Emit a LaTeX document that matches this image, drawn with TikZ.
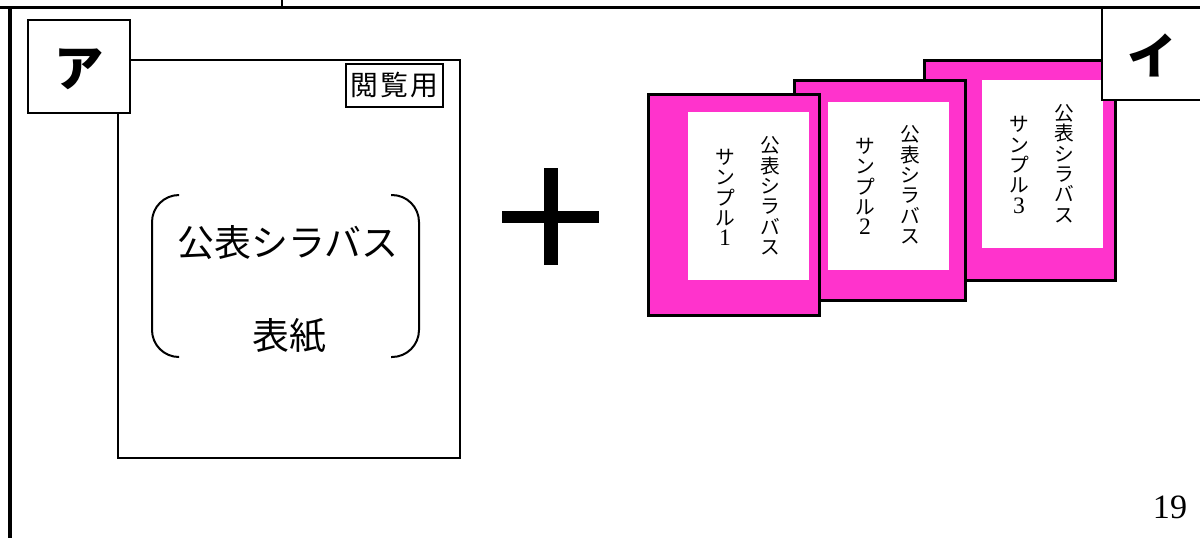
\documentclass[tikz,border=0pt]{standalone}
\usepackage{fontspec}
\setmainfont{Liberation Serif}
\newfontfamily\cjk{Noto Sans CJK JP}
\newcommand{\wdig}[1]{{\rmfamily\fontsize{6.7}{5.8}\selectfont #1}}
\tikzset{
  x=0.01cm,y=-0.01cm,
  thin box/.style={draw=black,line width=0.018cm,fill=white},
  label box/.style={draw=black,line width=0.02cm,fill=white},
  card/.style={draw=black,line width=0.03cm,fill=cardpink},
  inner card/.style={fill=white},
  vtext/.style={font=\cjk\fontsize{5.6}{5.8}\selectfont,align=center,inner sep=0pt},
  bigtext/.style={font=\cjk\fontsize{10.5}{11}\selectfont,inner sep=0pt},
  tagtext/.style={font=\cjk\bfseries\fontsize{14}{15}\selectfont,inner sep=0pt},
  bracket/.style={draw=black,line width=0.02cm,rounded corners=0.27cm},
  frame/.style={draw=black,line width=0.035cm},
}
\definecolor{cardpink}{HTML}{FF33CC}
\begin{document}
\begin{tikzpicture}
\useasboundingbox (0,0) rectangle (1200,538);
\clip (0,0) rectangle (1200,538);
\fill[white] (0,0) rectangle (1200,538);
% page frame
\draw[frame] (0,7.5) -- (1200,7.5);
\draw[frame] (10,7.5) -- (10,538);
\draw[draw=black,line width=0.02cm] (282,0) -- (282,7.5);
% cover sheet
\draw[thin box] (118,60) rectangle (460,458);
\draw[label box] (346,64) rectangle (443,107);
\node[font=\cjk\fontsize{7.9}{9}\selectfont,inner sep=0pt] (eturan) at (394.5,85) {閲\kern0.6pt 覧\kern0.6pt 用};
\draw[bracket] (179,195) -| (152,357) -- (179,357);
\draw[bracket] (391,195) -| (419,357) -- (391,357);
\node[bigtext] (title) at (288,243) {公表シラバス};
\node[bigtext] (cover) at (289,336) {表紙};
% tag A
\draw[thin box,line width=0.02cm] (28,20) rectangle (130,113);
\node[tagtext] (tagA) at (79,69) {ア};
% plus
\fill[black] (502,211) rectangle (599,223);
\fill[black] (544,168) rectangle (558,265);
% card 3
\draw[card] (924,60) rectangle (1115,280);
\fill[inner card] (982,80) rectangle (1103,248);
\node[vtext] (c3a) at (1064,163.5) {公\\表\\シ\\ラ\\バ\\ス};
\node[vtext] (c3b) at (1019,165) {サ\\ン\\プ\\ル\\\wdig{3}};
% card 2
\draw[card] (794,80) rectangle (965,300);
\fill[inner card] (828,102) rectangle (949,270);
\node[vtext] (c2a) at (910,185) {公\\表\\シ\\ラ\\バ\\ス};
\node[vtext] (c2b) at (865,186.5) {サ\\ン\\プ\\ル\\\wdig{2}};
% card 1
\draw[card] (648,94) rectangle (819,315);
\fill[inner card] (688,112) rectangle (809,280);
\node[vtext] (c1a) at (770,196) {公\\表\\シ\\ラ\\バ\\ス};
\node[vtext] (c1b) at (725,197.5) {サ\\ン\\プ\\ル\\\wdig{1}};
% tag I
\draw[label box] (1102,8) rectangle (1210,100);
\node[tagtext] (tagI) at (1152,55) {イ};
% page number
\node[font=\fontsize{9.7}{11}\selectfont,inner sep=0pt] (page) at (1170,507.5) {19};
\end{tikzpicture}
\end{document}
